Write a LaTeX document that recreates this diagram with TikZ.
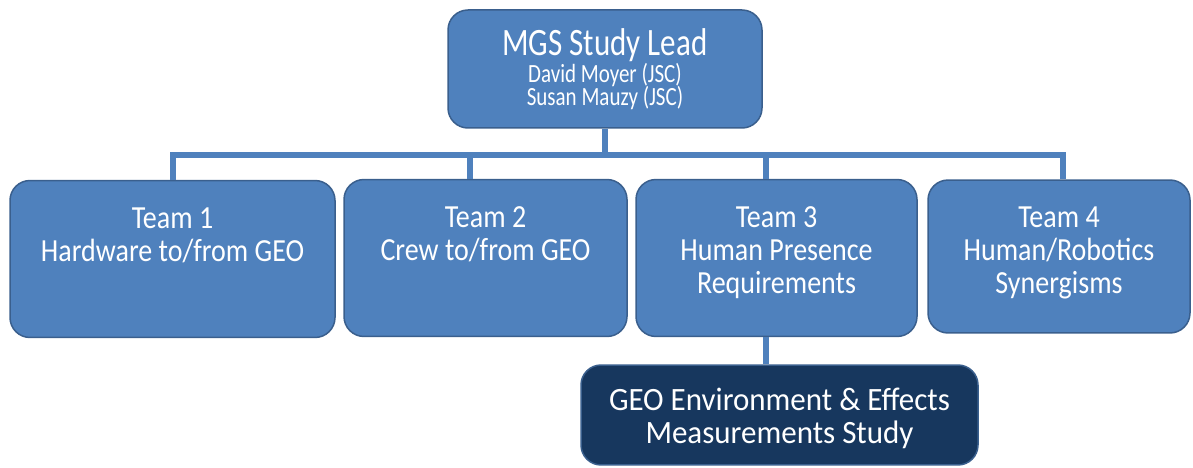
\documentclass[tikz,border=0pt]{standalone}
\usepackage{fontspec}
\setmainfont{Carlito}
\usepackage{xcolor}
\usetikzlibrary{positioning,calc}

\definecolor{boxblue}{HTML}{4F81BD}
\definecolor{boxline}{HTML}{3A5F8D}
\definecolor{studynavy}{HTML}{17375E}

\tikzset{
  orgbox/.style={draw=boxline, line width=1.5pt, fill=boxblue, rounded corners=20pt,
    text=white, align=center, inner sep=0pt},
  teambox/.style={orgbox, yscale=1.15, text height=70.4pt, text depth=66.1pt,
    font=\fontsize{28}{28.7}\selectfont},
  tallteam/.style={teambox, text height=99.1pt, text depth=37.4pt},
  link/.style={draw=boxblue, line width=5.5pt},
}

\begin{document}
\begin{tikzpicture}[x=1pt, y=-1pt]
\useasboundingbox (0,0) rectangle (1193,468);

% lead and teams
\node[orgbox, yscale=1.25, minimum width=314pt, text height=76.5pt, text depth=17.9pt,
  font=\fontsize{31}{20}\selectfont] (lead) at (605,69)
  {MGS Study Lead\\[0.6pt]{\fontsize{21}{20}\selectfont David Moyer (JSC)}\\[-1.6pt]{\fontsize{21}{20}\selectfont Susan Mauzy (JSC)}};
\node[teambox, minimum width=325pt] (team1) at (172.5,259) {Team 1\\Hardware to/from GEO};
\node[teambox, minimum width=283pt] (team2) at (485.5,258) {Team 2\\Crew to/from GEO};
\node[tallteam, minimum width=281pt] (team3) at (776.5,258) {Team 3\\Human Presence\\Requirements};
\node[tallteam, minimum width=262pt, text depth=33.9pt] (team4) at (1059,256.5) {Team 4\\Human/Robotics\\Synergisms};
\node[orgbox, fill=studynavy, yscale=1.05, minimum width=397pt, text height=74.3pt, text depth=20.9pt,
  font=\fontsize{31}{31.4}\selectfont] (geo) at (779.5,415) {GEO Environment \& Effects\\Measurements Study};

% bus
\coordinate (j1) at (173,155);
\coordinate (j2) at (470,155);
\coordinate (j3) at (766,155);
\coordinate (j4) at (1063,155);

\draw[link] (lead.south) -- (lead.south |- j1);
\draw[link, line cap=rect] (j1) -- (j4);
\draw[link] (j1) -- (j1 |- team1.north);
\draw[link] (j2) -- (j2 |- team2.north);
\draw[link] (j3) -- (j3 |- team3.north);
\draw[link] (j4) -- (j4 |- team4.north);
\draw[link] (team3.south -| j3) -- (geo.north -| j3);
\end{tikzpicture}
\end{document}
